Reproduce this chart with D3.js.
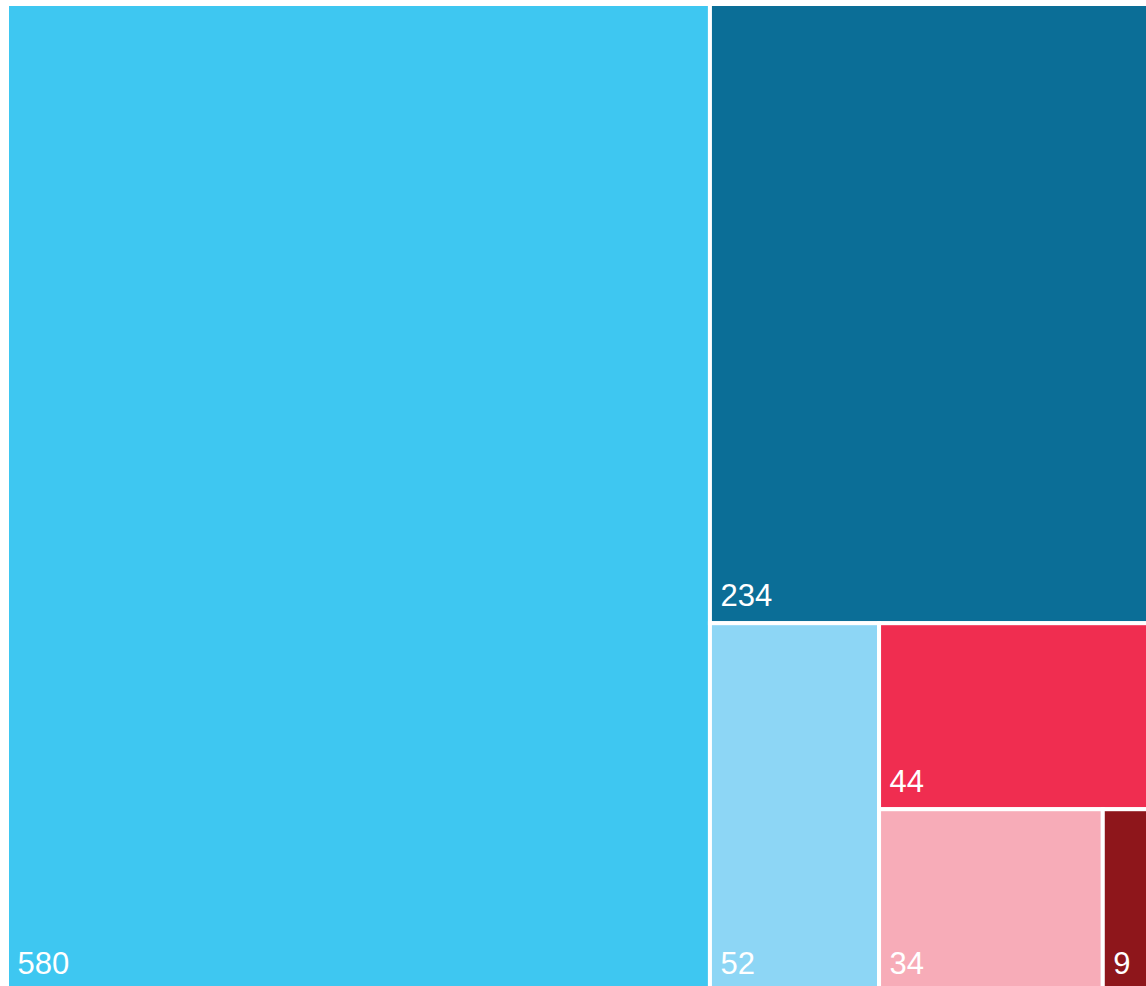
<!DOCTYPE html>
<html>
<head>
<meta charset="utf-8">
<script src="https://cdn.jsdelivr.net/npm/d3@7"></script>
<style>
  body { margin: 0; background: #fff; overflow: hidden; }
  svg { display: block; }
</style>
</head>
<body>
<div id="chart"></div>
<script>
// values of the tiles, in layout order
const names = ["a", "b", "c", "d", "e", "f"];
const values = [580, 234, 52, 44, 34, 9];
const colors = ["#3ec7f1", "#0b6e97", "#8dd6f5", "#f02d50", "#f7acb8", "#8e161b"];

let margin = {top: 4, left: 7},
    width = 1155,
    height = 987;

let svg = d3.select("#chart").append("svg")
    .attr("width", 1146)
    .attr("height", 986)
    .append("g")
    .attr("transform", `translate(${margin.left},${margin.top})`);

// each child takes one strip of what is left, across the longer side
function stripTile(parent, x0, y0, x1, y1) {
    let value = parent.value;
    parent.children.forEach(node => {
        let dx = x1 - x0, dy = y1 - y0;
        if (dx >= dy) {
            node.x0 = x0; node.y0 = y0; node.y1 = y1;
            node.x1 = x0 += dx * node.value / value;
        } else {
            node.x0 = x0; node.x1 = x1; node.y0 = y0;
            node.y1 = y0 += dy * node.value / value;
        }
        value -= node.value;
    });
}

let root = d3.hierarchy({children: names.map((n, i) => ({name: n, value: values[i]}))})
    .sum(d => d.value || 0);

d3.treemap()
    .tile(stripTile)
    .size([width, height])(root);

let colorMap = d3.scaleOrdinal().domain(names).range(colors);

let cell = svg.selectAll(".cell")
    .data(root.leaves())
    .join("g")
    .attr("class", "cell")
    .attr("transform", d => `translate(${d.x0},${d.y0})`);

cell.append("rect")
    .attr("width", d => d.x1 - d.x0)
    .attr("height", d => d.y1 - d.y0)
    .attr("fill", d => colorMap(d.data.name))
    .attr("stroke", "white")
    .attr("stroke-width", 4);

// value label, bottom left
cell.append("text")
    .attr("x", 10.5)
    .attr("y", d => d.y1 - d.y0 - 17)
    .attr("fill", "white")
    .attr("font-family", "'Liberation Sans', Arial, sans-serif")
    .attr("font-size", "31px")
    .text(d => d.data.value);
</script>
</body>
</html>
